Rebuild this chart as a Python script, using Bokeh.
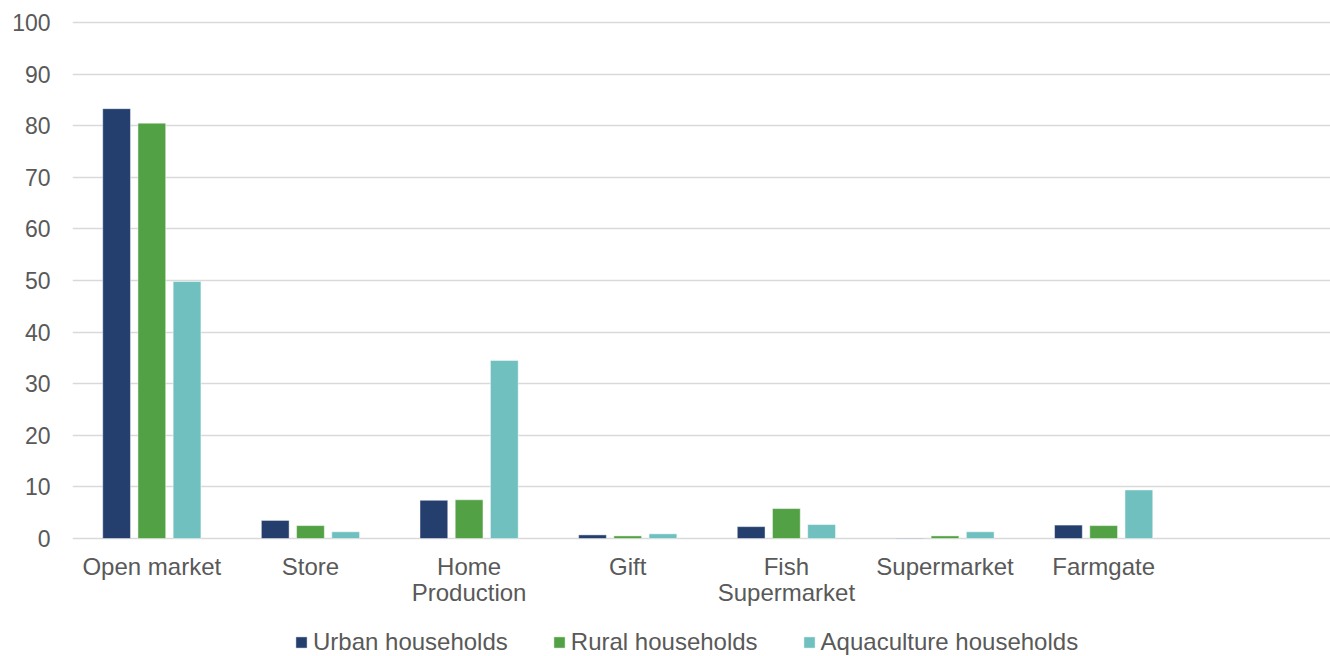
from bokeh.plotting import figure
from bokeh.models import (ColumnDataSource, Range1d, FixedTicker, Legend, LegendItem)
from bokeh.core.properties import value
from bokeh.transform import dodge
from bokeh.embed import file_html
from bokeh.resources import INLINE

# Where households obtain fish (% of households)
categories = ["Open market", "Store", "Home\nProduction", "Gift",
              "Fish\nSupermarket", "Supermarket", "Farmgate"]
urban = [83.3, 3.5, 7.4, 0.7, 2.3, 0.1, 2.6]
rural = [80.5, 2.5, 7.5, 0.5, 5.8, 0.5, 2.5]
aquaculture = [49.8, 1.3, 34.5, 0.9, 2.7, 1.3, 9.4]
series_names = ["Urban households", "Rural households", "Aquaculture households"]
series_colors = ["#243F6E", "#53A145", "#6FC0BF"]
y_ticks = list(range(0, 101, 10))

idx = list(range(len(categories)))
source = ColumnDataSource(dict(x=idx, urban=urban, rural=rural, aquaculture=aquaculture))

FONT = "Liberation Sans"
TEXT = "#595959"
GRID = "#D9D9D9"

# The frame runs down to the bottom edge so the category names and the
# legend can sit under the zero line inside it.
p = figure(width=1330, height=656, output_backend="svg", toolbar_location=None,
           x_range=Range1d(-0.5, 7.43), y_range=Range1d(-22.87, 100.39),
           min_border_left=72, min_border_right=0, min_border_top=20,
           min_border_bottom=0, outline_line_color=None)
p.background_fill_color = "white"
p.border_fill_color = "white"

renderers = []
for col, off, color in zip(["urban", "rural", "aquaculture"], [-0.222, 0.0, 0.222], series_colors):
    r = p.vbar(x=dodge("x", off, range=p.x_range), top=col, width=0.175, source=source,
               fill_color=color, line_color="white", line_alpha=0.45, line_width=1)
    renderers.append(r)

# y axis: labels only
p.yaxis.ticker = FixedTicker(ticks=y_ticks)
p.yaxis.axis_line_color = None
p.yaxis.major_tick_line_color = None
p.yaxis.minor_tick_line_color = None
p.yaxis.major_label_text_font = FONT
p.yaxis.major_label_text_font_size = "23px"
p.yaxis.major_label_text_color = TEXT
p.yaxis.major_label_standoff = 16

p.xaxis.visible = False
p.xgrid.grid_line_color = None
p.ygrid.ticker = FixedTicker(ticks=y_ticks)
p.ygrid.grid_line_color = GRID
p.ygrid.grid_line_width = 1.5

# category names under each group of bars
label_src = ColumnDataSource(dict(x=idx, y=[-2.8] * len(idx), text=categories))
p.text(x="x", y="y", text="text", source=label_src,
       text_font=value(FONT), text_font_size="24px", text_color=TEXT,
       text_align="center", text_baseline="top", text_line_height=0.97)

legend = Legend(items=[LegendItem(label=n, renderers=[r]) for n, r in zip(series_names, renderers)],
                orientation="horizontal", location=(222, 0),
                label_text_font=FONT, label_text_font_size="24px", label_text_color=TEXT,
                label_text_line_height=0.8, label_height=18,
                glyph_width=14, glyph_height=14, label_standoff=5, spacing=44,
                border_line_color=None, background_fill_alpha=0,
                padding=0, margin=0)
p.add_layout(legend, "center")

open("out.html", "w").write(file_html(p, INLINE))
